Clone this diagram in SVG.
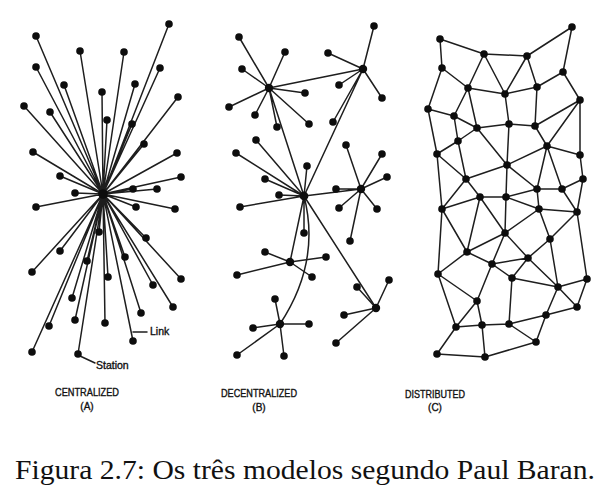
<svg xmlns="http://www.w3.org/2000/svg" width="611" height="500" viewBox="0 0 611 500">
<style>
.e{stroke:#1e1e1e;stroke-width:1.5;fill:none;stroke-linecap:round}
.n{fill:#0d0d0d}
.lb{font-family:"Liberation Sans",Arial,sans-serif;font-size:10px;fill:#111;stroke:#111;stroke-width:0.35;text-anchor:middle}
.sm{font-family:"Liberation Sans",Arial,sans-serif;font-size:10.5px;fill:#111;stroke:#111;stroke-width:0.35}
.cap{font-family:"Liberation Serif","Times New Roman",serif;font-size:27px;fill:#111}
</style>
<rect width="611" height="500" fill="#fff"/>
<g id="connectors">
<path class="e" d="M103,194L169,24M103,194L36,36M103,194L80,51M103,194L124,52M103,194L36,67M103,194L160,68M103,194L64,85M103,194L135,84M103,194L102,92M103,194L178,97M103,194L24,106M103,194L50,112M103,194L107,120M103,194L132,124M103,194L144,144M103,194L33,152M103,194L177,153M103,194L60,176M103,194L181,177M103,194L133,189M103,194L157,189M103,194L75,193M103,194L36,207M103,194L136,207M103,194L175,209M103,194L99,232M103,194L146,238M103,194L60,251M103,194L125,257M103,194L87,261M103,194L32,272M103,194L108,277M103,194L181,279M103,194L153,285M103,194L72,298M103,194L173,307M103,194L141,313M103,194L75,320M103,194L49,326M103,194L105,323M103,194L133,341M103,194L32,352M103,194L78,354"/>
<path class="e" d="M133,332H147M80,356L95,363" stroke-width="1.3"/>
<path class="e" d="M269,88L239,37M269,88L285,52M269,88L242,69M269,88L305,93M269,88L229,107M269,88L255,115M269,88L277,127M269,88L309,124M269,88L363,69M269,88L304,196"/>
<path class="e" d="M363,69L374,26M363,69L328,53M363,69L339,85M363,69L382,98M363,69L333,122M363,69L304,196"/>
<path class="e" d="M304,196L256,140M304,196L236,153M304,196L307,166M304,196L265,179M304,196L279,195M304,196L240,207M304,196L304,233M304,196L361,189M336,189L361,189M304,196L290,262M304,196L376,308M304,196Q321,262 280,324"/>
<path class="e" d="M361,189L346,145M361,189L382,154M361,189L387,177M361,189L339,208M361,189L377,209M361,189L350,241"/>
<path class="e" d="M290,262L265,252M290,262L326,257M290,262L237,275M290,262L312,277"/>
<path class="e" d="M280,324L275,299M280,324L253,328M280,324L309,324M280,324L237,355M280,324L284,356"/>
<path class="e" d="M376,308L389,280M376,308L357,287M376,308L344,315M376,308L336,343"/>
<path class="e" d="M440,39L484,54M484,54L527,56M527,56L572,27M572,27L563,72M440,39L442,68M442,68L468,88M442,68L428,109M484,54L468,88M484,54L505,94M527,56L505,94M527,56L537,87M563,72L537,87M563,72L580,100M468,88L505,94M505,94L537,87M468,88L454,116M468,88L477,128M505,94L509,124M537,87L535,126M428,109L454,116M428,109L437,154M454,116L477,128M454,116L458,141M477,128L509,124M509,124L535,126M535,126L580,100M580,100L547,146M580,100L580,155M535,126L547,146M477,128L458,141M477,128L507,165M509,124L507,165M458,141L437,154M458,141L466,179M437,154L466,179M547,146L507,165M547,146L580,155M547,146L537,189M547,146L562,189M580,155L583,179M507,165L466,179M507,165L537,189M562,189L583,179"/>
<path class="e" d="M466,179L480,197M466,179L442,209M437,154L442,209M480,197L442,209M480,197L506,197M506,197L507,165M506,197L537,189M537,189L562,189M583,179L577,212M562,189L577,212M537,189L539,209M506,197L539,209M539,209L577,212M480,197L467,252M480,197L505,233M506,197L505,233M539,209L505,233M539,209L550,239M577,212L550,239M577,212L587,279M442,209L467,252M442,209L438,274M505,233L467,252M505,233L492,264M505,233L528,258M550,239L528,258M550,239L558,287M467,252L492,264M467,252L438,274M492,264L528,258M492,264L512,278M492,264L477,301M528,258L512,278M528,258L558,287M512,278L558,287M512,278L509,324M558,287L587,279M558,287L577,307M558,287L546,315M587,279L577,307M438,274L477,301M438,274L456,327M477,301L456,327M477,301L482,325M456,327L482,325M482,325L509,324M509,324L546,315M546,315L577,307M509,324L536,342M546,315L536,342M456,327L437,354M437,354L485,357M482,325L485,357M485,357L536,342"/>
</g>
<g id="nodes-a">
<g id="a-hub"><circle class="n" cx="103" cy="194" r="4.8"/></g>
<g id="a1"><circle class="n" cx="169" cy="24" r="3.8"/></g>
<g id="a2"><circle class="n" cx="36" cy="36" r="3.8"/></g>
<g id="a3"><circle class="n" cx="80" cy="51" r="3.8"/></g>
<g id="a4"><circle class="n" cx="124" cy="52" r="3.8"/></g>
<g id="a5"><circle class="n" cx="36" cy="67" r="3.8"/></g>
<g id="a6"><circle class="n" cx="160" cy="68" r="3.8"/></g>
<g id="a7"><circle class="n" cx="64" cy="85" r="3.8"/></g>
<g id="a8"><circle class="n" cx="135" cy="84" r="3.8"/></g>
<g id="a9"><circle class="n" cx="102" cy="92" r="3.8"/></g>
<g id="a10"><circle class="n" cx="178" cy="97" r="3.8"/></g>
<g id="a11"><circle class="n" cx="24" cy="106" r="3.8"/></g>
<g id="a12"><circle class="n" cx="50" cy="112" r="3.8"/></g>
<g id="a13"><circle class="n" cx="107" cy="120" r="3.8"/></g>
<g id="a14"><circle class="n" cx="132" cy="124" r="3.8"/></g>
<g id="a15"><circle class="n" cx="144" cy="144" r="3.8"/></g>
<g id="a16"><circle class="n" cx="33" cy="152" r="3.8"/></g>
<g id="a17"><circle class="n" cx="177" cy="153" r="3.8"/></g>
<g id="a18"><circle class="n" cx="60" cy="176" r="3.8"/></g>
<g id="a19"><circle class="n" cx="181" cy="177" r="3.8"/></g>
<g id="a20"><circle class="n" cx="133" cy="189" r="3.8"/></g>
<g id="a21"><circle class="n" cx="157" cy="189" r="3.8"/></g>
<g id="a22"><circle class="n" cx="75" cy="193" r="3.8"/></g>
<g id="a23"><circle class="n" cx="36" cy="207" r="3.8"/></g>
<g id="a24"><circle class="n" cx="136" cy="207" r="3.8"/></g>
<g id="a25"><circle class="n" cx="175" cy="209" r="3.8"/></g>
<g id="a26"><circle class="n" cx="99" cy="232" r="3.8"/></g>
<g id="a27"><circle class="n" cx="146" cy="238" r="3.8"/></g>
<g id="a28"><circle class="n" cx="60" cy="251" r="3.8"/></g>
<g id="a29"><circle class="n" cx="125" cy="257" r="3.8"/></g>
<g id="a30"><circle class="n" cx="87" cy="261" r="3.8"/></g>
<g id="a31"><circle class="n" cx="32" cy="272" r="3.8"/></g>
<g id="a32"><circle class="n" cx="108" cy="277" r="3.8"/></g>
<g id="a33"><circle class="n" cx="181" cy="279" r="3.8"/></g>
<g id="a34"><circle class="n" cx="153" cy="285" r="3.8"/></g>
<g id="a35"><circle class="n" cx="72" cy="298" r="3.8"/></g>
<g id="a36"><circle class="n" cx="173" cy="307" r="3.8"/></g>
<g id="a37"><circle class="n" cx="141" cy="313" r="3.8"/></g>
<g id="a38"><circle class="n" cx="75" cy="320" r="3.8"/></g>
<g id="a39"><circle class="n" cx="49" cy="326" r="3.8"/></g>
<g id="a40"><circle class="n" cx="105" cy="323" r="3.8"/></g>
<g id="a41"><circle class="n" cx="133" cy="341" r="3.8"/></g>
<g id="a42"><circle class="n" cx="32" cy="352" r="3.8"/></g>
<g id="a43"><circle class="n" cx="78" cy="354" r="3.8"/></g>
</g>
<g id="nodes-b">
<g id="b-hubA"><circle class="n" cx="269" cy="88" r="4.2"/></g>
<g id="b-hubB"><circle class="n" cx="363" cy="69" r="4.2"/></g>
<g id="b-hubM"><circle class="n" cx="304" cy="196" r="4.4"/></g>
<g id="b-hubC"><circle class="n" cx="361" cy="189" r="4.2"/></g>
<g id="b-hubD"><circle class="n" cx="290" cy="262" r="4.2"/></g>
<g id="b-hubE"><circle class="n" cx="280" cy="324" r="4.2"/></g>
<g id="b-hubF"><circle class="n" cx="376" cy="308" r="4.2"/></g>
<g id="b1"><circle class="n" cx="374" cy="26" r="3.8"/></g>
<g id="b2"><circle class="n" cx="239" cy="37" r="3.8"/></g>
<g id="b3"><circle class="n" cx="285" cy="52" r="3.8"/></g>
<g id="b4"><circle class="n" cx="328" cy="53" r="3.8"/></g>
<g id="b5"><circle class="n" cx="242" cy="69" r="3.8"/></g>
<g id="b6"><circle class="n" cx="305" cy="93" r="3.8"/></g>
<g id="b7"><circle class="n" cx="339" cy="85" r="3.8"/></g>
<g id="b8"><circle class="n" cx="229" cy="107" r="3.8"/></g>
<g id="b9"><circle class="n" cx="382" cy="98" r="3.8"/></g>
<g id="b10"><circle class="n" cx="255" cy="115" r="3.8"/></g>
<g id="b11"><circle class="n" cx="277" cy="127" r="3.8"/></g>
<g id="b12"><circle class="n" cx="309" cy="124" r="3.8"/></g>
<g id="b13"><circle class="n" cx="333" cy="122" r="3.8"/></g>
<g id="b14"><circle class="n" cx="256" cy="140" r="3.8"/></g>
<g id="b15"><circle class="n" cx="346" cy="145" r="3.8"/></g>
<g id="b16"><circle class="n" cx="236" cy="153" r="3.8"/></g>
<g id="b17"><circle class="n" cx="382" cy="154" r="3.8"/></g>
<g id="b18"><circle class="n" cx="307" cy="166" r="3.8"/></g>
<g id="b19"><circle class="n" cx="265" cy="179" r="3.8"/></g>
<g id="b20"><circle class="n" cx="387" cy="177" r="3.8"/></g>
<g id="b21"><circle class="n" cx="336" cy="189" r="3.8"/></g>
<g id="b22"><circle class="n" cx="279" cy="195" r="3.8"/></g>
<g id="b23"><circle class="n" cx="240" cy="207" r="3.8"/></g>
<g id="b24"><circle class="n" cx="339" cy="208" r="3.8"/></g>
<g id="b25"><circle class="n" cx="377" cy="209" r="3.8"/></g>
<g id="b26"><circle class="n" cx="304" cy="233" r="3.8"/></g>
<g id="b27"><circle class="n" cx="350" cy="241" r="3.8"/></g>
<g id="b28"><circle class="n" cx="265" cy="252" r="3.8"/></g>
<g id="b29"><circle class="n" cx="326" cy="257" r="3.8"/></g>
<g id="b30"><circle class="n" cx="237" cy="275" r="3.8"/></g>
<g id="b31"><circle class="n" cx="312" cy="277" r="3.8"/></g>
<g id="b32"><circle class="n" cx="389" cy="280" r="3.8"/></g>
<g id="b33"><circle class="n" cx="357" cy="287" r="3.8"/></g>
<g id="b34"><circle class="n" cx="275" cy="299" r="3.8"/></g>
<g id="b35"><circle class="n" cx="344" cy="315" r="3.8"/></g>
<g id="b36"><circle class="n" cx="309" cy="324" r="3.8"/></g>
<g id="b37"><circle class="n" cx="253" cy="328" r="3.8"/></g>
<g id="b38"><circle class="n" cx="336" cy="343" r="3.8"/></g>
<g id="b39"><circle class="n" cx="237" cy="355" r="3.8"/></g>
<g id="b40"><circle class="n" cx="284" cy="356" r="3.8"/></g>
</g>
<g id="nodes-c">
<g id="c1"><circle class="n" cx="572" cy="27" r="3.8"/></g>
<g id="c2"><circle class="n" cx="440" cy="39" r="3.8"/></g>
<g id="c3"><circle class="n" cx="484" cy="54" r="3.8"/></g>
<g id="c4"><circle class="n" cx="527" cy="56" r="3.8"/></g>
<g id="c5"><circle class="n" cx="442" cy="68" r="3.8"/></g>
<g id="c6"><circle class="n" cx="563" cy="72" r="3.8"/></g>
<g id="c7"><circle class="n" cx="468" cy="88" r="3.8"/></g>
<g id="c8"><circle class="n" cx="537" cy="87" r="3.8"/></g>
<g id="c9"><circle class="n" cx="505" cy="94" r="3.8"/></g>
<g id="c10"><circle class="n" cx="580" cy="100" r="3.8"/></g>
<g id="c11"><circle class="n" cx="428" cy="109" r="3.8"/></g>
<g id="c12"><circle class="n" cx="454" cy="116" r="3.8"/></g>
<g id="c13"><circle class="n" cx="509" cy="124" r="3.8"/></g>
<g id="c14"><circle class="n" cx="535" cy="126" r="3.8"/></g>
<g id="c15"><circle class="n" cx="477" cy="128" r="3.8"/></g>
<g id="c16"><circle class="n" cx="458" cy="141" r="3.8"/></g>
<g id="c17"><circle class="n" cx="547" cy="146" r="3.8"/></g>
<g id="c18"><circle class="n" cx="437" cy="154" r="3.8"/></g>
<g id="c19"><circle class="n" cx="580" cy="155" r="3.8"/></g>
<g id="c20"><circle class="n" cx="507" cy="165" r="3.8"/></g>
<g id="c21"><circle class="n" cx="466" cy="179" r="3.8"/></g>
<g id="c22"><circle class="n" cx="583" cy="179" r="3.8"/></g>
<g id="c23"><circle class="n" cx="537" cy="189" r="3.8"/></g>
<g id="c24"><circle class="n" cx="562" cy="189" r="3.8"/></g>
<g id="c25"><circle class="n" cx="480" cy="197" r="3.8"/></g>
<g id="c26"><circle class="n" cx="506" cy="197" r="3.8"/></g>
<g id="c27"><circle class="n" cx="442" cy="209" r="3.8"/></g>
<g id="c28"><circle class="n" cx="539" cy="209" r="3.8"/></g>
<g id="c29"><circle class="n" cx="577" cy="212" r="3.8"/></g>
<g id="c30"><circle class="n" cx="505" cy="233" r="3.8"/></g>
<g id="c31"><circle class="n" cx="550" cy="239" r="3.8"/></g>
<g id="c32"><circle class="n" cx="467" cy="252" r="3.8"/></g>
<g id="c33"><circle class="n" cx="528" cy="258" r="3.8"/></g>
<g id="c34"><circle class="n" cx="492" cy="264" r="3.8"/></g>
<g id="c35"><circle class="n" cx="438" cy="274" r="3.8"/></g>
<g id="c36"><circle class="n" cx="512" cy="278" r="3.8"/></g>
<g id="c37"><circle class="n" cx="587" cy="279" r="3.8"/></g>
<g id="c38"><circle class="n" cx="558" cy="287" r="3.8"/></g>
<g id="c39"><circle class="n" cx="477" cy="301" r="3.8"/></g>
<g id="c40"><circle class="n" cx="577" cy="307" r="3.8"/></g>
<g id="c41"><circle class="n" cx="546" cy="315" r="3.8"/></g>
<g id="c42"><circle class="n" cx="456" cy="327" r="3.8"/></g>
<g id="c43"><circle class="n" cx="482" cy="325" r="3.8"/></g>
<g id="c44"><circle class="n" cx="509" cy="324" r="3.8"/></g>
<g id="c45"><circle class="n" cx="536" cy="342" r="3.8"/></g>
<g id="c46"><circle class="n" cx="437" cy="354" r="3.8"/></g>
<g id="c47"><circle class="n" cx="485" cy="357" r="3.8"/></g>
</g>
<g id="labels">
<text class="sm" x="150" y="335">Link</text>
<text class="sm" x="96" y="369">Station</text>
<text class="lb" x="87" y="396" textLength="64" lengthAdjust="spacingAndGlyphs">CENTRALIZED</text>
<text class="lb" x="87" y="410">(A)</text>
<text class="lb" x="259" y="397" textLength="76" lengthAdjust="spacingAndGlyphs">DECENTRALIZED</text>
<text class="lb" x="259" y="411">(B)</text>
<text class="lb" x="435" y="398" textLength="60" lengthAdjust="spacingAndGlyphs">DISTRIBUTED</text>
<text class="lb" x="435" y="411">(C)</text>
<text class="cap" x="15" y="479" textLength="580" lengthAdjust="spacingAndGlyphs">Figura 2.7: Os três modelos segundo Paul Baran.</text>
</g>
</svg>
